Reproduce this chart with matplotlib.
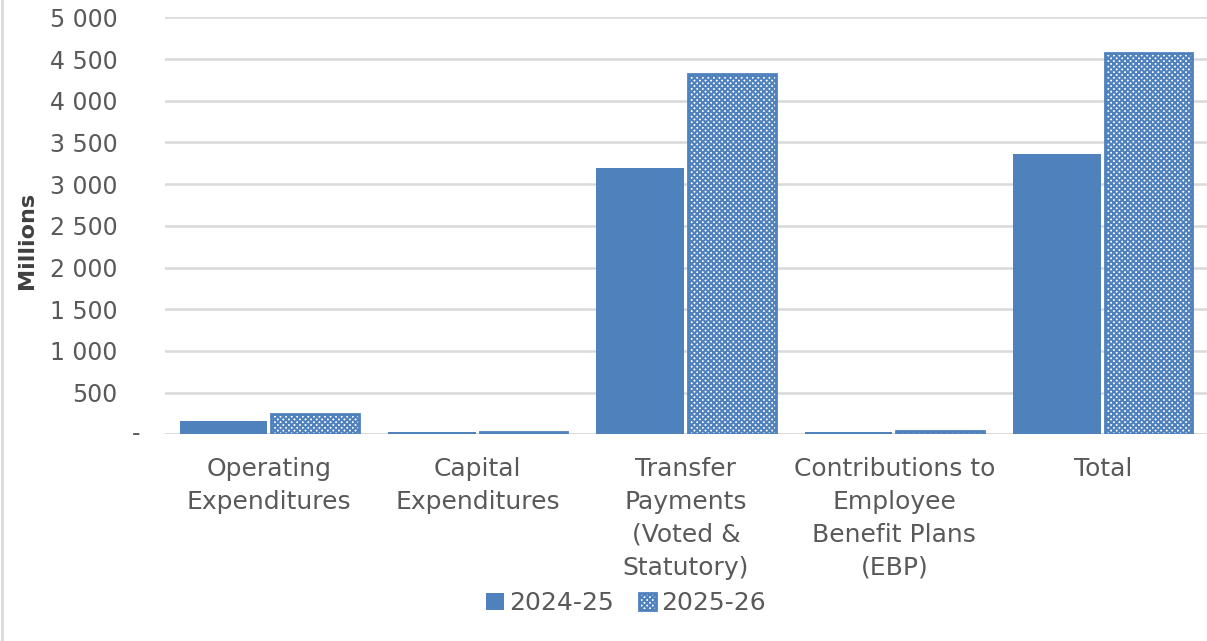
import matplotlib.pyplot as plt
import numpy as np
from matplotlib.lines import Line2D
from matplotlib.transforms import blended_transform_factory

categories = [
    'Operating\nExpenditures',
    'Capital\nExpenditures',
    'Transfer\nPayments\n(Voted &\nStatutory)',
    'Contributions to\nEmployee\nBenefit Plans\n(EBP)',
    'Total',
]
fy2425 = [164, 25, 3198, 32, 3358]
fy2526 = [245, 25, 4321, 45, 4577]
series_names = ['2024-25', '2025-26']
yticks = [0, 500, 1000, 1500, 2000, 2500, 3000, 3500, 4000, 4500, 5000]

BLUE = '#4F81BD'
TEXT = '#595959'
GRID = '#D9D9D9'

plt.rcParams['font.family'] = ['DejaVu Sans']
plt.rcParams['hatch.linewidth'] = 1.5


def fmt(v):
    if v == 0:
        return ''
    return f'{v:,}'.replace(',', ' ')


def plot():
    fig = plt.figure(figsize=(12.07, 6.41), dpi=100)
    ax = fig.add_axes([0.1367, 0.3223, 0.8633, 0.6506])

    x = np.arange(len(categories))
    w = 0.42
    ax.bar(x - 0.22, fy2425, w, color=BLUE, lw=0,
           label=series_names[0], zorder=3)
    ax.bar(x + 0.22, fy2526, w, color='white', edgecolor=BLUE, lw=2,
           hatch='xxxxxx', label=series_names[1], zorder=3)

    ax.set_xlim(-0.5, len(categories) - 0.5)
    ax.set_ylim(0, 5000)
    ax.set_yticks(yticks)
    ax.set_yticklabels([fmt(v) for v in yticks])
    ax.set_xticks(x)
    ax.set_xticklabels(categories, linespacing=1.48)
    ax.tick_params(axis='y', length=0, pad=34, labelsize=17, labelcolor=TEXT)
    ax.tick_params(axis='x', length=0, pad=16, labelsize=18, labelcolor=TEXT)
    # accounting style dash for zero
    tr = blended_transform_factory(ax.transAxes, ax.transData)
    ax.text(-0.024, 0, '-', transform=tr, ha='right', va='center',
            fontsize=17, color=TEXT)

    ax.grid(axis='y', color=GRID, lw=1.8, zorder=0)
    for s in ax.spines.values():
        s.set_visible(False)
    ax.axhline(0, color=GRID, lw=1.8, zorder=2)

    ax.set_ylabel('Millions', fontsize=16, fontweight='bold', color='#404040')
    ax.yaxis.set_label_coords(-0.123, 0.465)

    fig.legend(loc='center', bbox_to_anchor=(626 / 1207, 1 - 603 / 641),
               ncol=2, frameon=False, fontsize=18, labelcolor=TEXT,
               handlelength=0.7, handleheight=0.7, handletextpad=0.2,
               columnspacing=1.0)

    fig.add_artist(Line2D([2 / 1207, 2 / 1207], [0, 1], color=GRID, lw=2))
    fig.savefig('out.png', dpi=100)


if __name__ == '__main__':
    plot()
